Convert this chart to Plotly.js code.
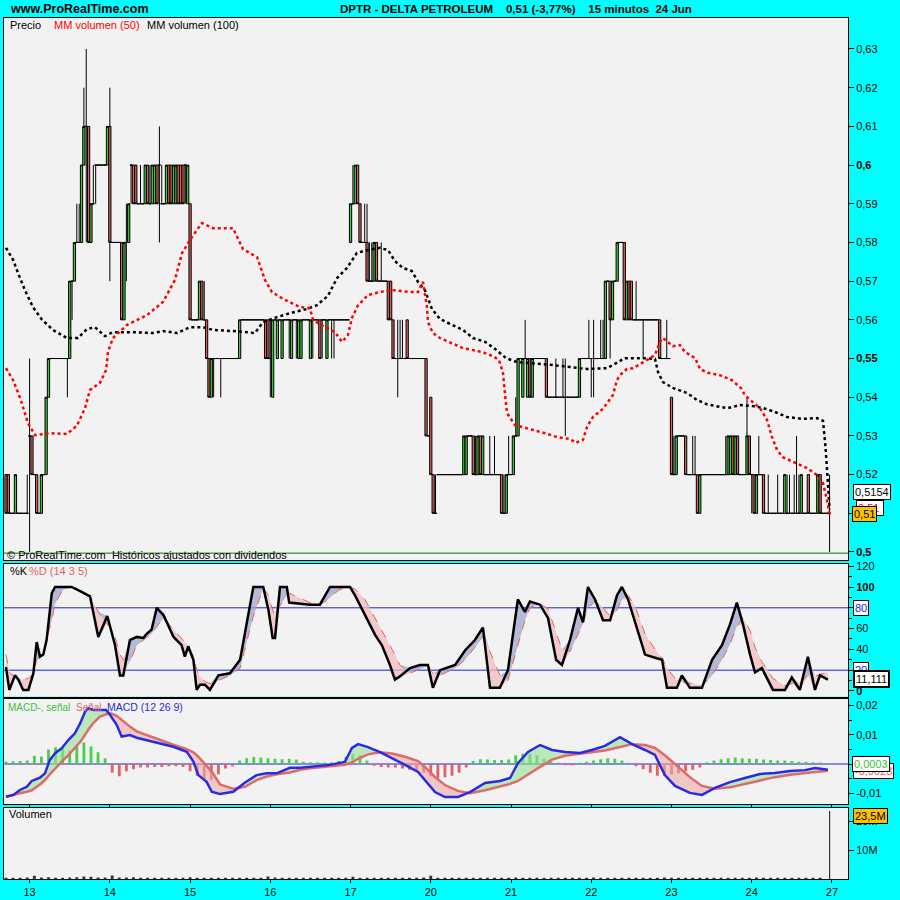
<!DOCTYPE html>
<html><head><meta charset="utf-8">
<script src="https://cdn.plot.ly/plotly-3.0.1.min.js"></script>
<style>html,body{margin:0;padding:0;background:#00FFFF;}#chart{width:900px;height:900px;}</style>
</head><body><div id="chart"></div>
<script>
// ---------- x axis: 15-minute bar index, day labels ----------
const dayTickIdx = [10,44,78,112,146,180,214,248,282,316,350];
const dayLabels = ['13','14','15','16','17','20','21','22','23','24','27'];

// ---------- price bars (in cents) ----------
const openC = [
 52,52,51,51,51,51,51,51,51,51,
 53,53,52,52,51,51,52,52,54,55, 55,55,55,55,55,55,55,55,57,57, 58,58,58,60,61,61,58,59,60,60, 60,60,60,60,
 61,58,58,58,58,58,56,58,58,60, 60,60,59,59,59,59,60,59,59,59, 60,60,59,59,59,60,60,59,59,60, 60,60,60,59,
 59,56,56,56,56,57,56,56,55,54, 55,55,55,55,55,55,55,55,55,55, 55,55,56,56,56,56,56,56,56,56, 56,56,56,56,
 55,54,56,55,56,55,56,56,56,55, 56,56,55,55,56,56,56,55,56,56, 56,56,56,56,55,56,56,56,56,56, 56,56,56,56,
 58,59,59,60,59,58,58,58,57,57, 57,58,57,57,57,57,57,57,56,55, 55,55,55,55,56,55,55,55,55,55, 55,55,55,53,
 54,52,51,52,52,52,52,52,52,52, 52,52,52,52,52,52,53,53,53,52, 52,53,52,52,52,52,52,52,52,52, 52,51,51,52,
 52,52,53,53,55,54,55,54,55,54, 55,55,55,55,55,55,54,54,54,54, 54,54,54,54,54,54,54,54,54,54, 55,55,55,55,
 55,55,55,55,55,55,55,57,57,56, 57,57,58,58,58,56,57,57,56,56, 56,56,56,56,56,56,56,56,56,56, 55,55,55,55,
 54,52,52,53,53,53,53,52,52,52, 52,52,51,52,52,52,52,52,52,52, 52,52,52,52,52,52,53,52,53,52, 52,52,52,53,
 52,52,51,52,52,52,51,51,51,51, 51,51,51,51,51,51,51,51,51,51, 51,51,51,51,52,51,51,51,51,52, 51,51,51,51
];
const closeC = [
 51,51,51,51,52,51,51,51,51,51,
 53,52,52,51,51,52,52,54,55,55, 55,55,55,55,55,55,55,57,57,58, 58,58,60,61,61,58,59,59,60,60, 60,60,60,61,
 58,58,58,58,58,56,58,58,59,60, 59,59,59,59,59,60,59,59,60,60, 59,60,59,59,60,59,59,60,60,59, 59,59,60,60,
 56,56,56,56,57,56,56,55,54,55, 55,55,55,55,55,55,55,55,55,55, 55,56,56,56,56,56,56,56,56,56, 56,56,55,55,
 55,56,56,56,56,56,56,56,56,56, 56,56,56,56,56,56,56,56,56,56, 56,55,56,56,56,56,56,56,56,56, 56,56,56,56,
 59,59,60,59,58,58,58,57,57,57, 58,57,57,57,57,57,56,56,55,55, 55,55,55,55,55,55,55,55,55,55, 55,55,53,53,
 52,51,51,52,52,52,52,52,52,52, 52,52,52,52,53,53,53,53,52,52, 53,52,53,52,52,52,52,52,52,52, 51,51,52,52,
 52,53,53,55,55,55,55,55,54,55, 55,55,55,55,55,54,54,54,54,54, 54,54,54,54,54,54,54,54,54,55, 55,55,55,55,
 55,55,55,55,55,55,57,57,56,57, 57,58,58,58,56,57,56,56,56,56, 56,56,56,56,56,56,56,56,56,55, 55,55,55,55,
 52,52,53,53,53,53,52,52,52,52, 52,51,52,52,52,52,52,52,52,52, 52,52,52,52,53,53,52,53,52,52, 52,52,53,52,
 52,51,52,52,52,51,51,51,51,51, 51,51,51,51,52,51,51,51,51,51, 51,52,51,51,51,51,51,51,52,51, 51,51,51,51
];
// wicks beyond the body (cents)
const hiIdx = [9,10,30,31,33,34,37,44,51,57,61,65,66,84,112,147,152,153,154,155,159,166,167,168,182,199,205,207,211,213,216,220,233,236,237,247,249,252,253,267,280,283,291,292,305,314,319,323,327,331,332,334,335,336,349];
const hiVal = [52,55,59,59,62,63,60,62,59,60,60,61,60,57,56,60,59,59,58,58,58,56,56,56,52,53,53,53,52,53,54,56,55,55,55,56,56,56,56,57,56,53,53,53,53,54,53,52,52,52,52,52,53,52,52];
const loIdx = [10,26,28,34,38,44,51,53,65,76,88,91,112,120,123,130,134,138,139,166,237,248,249,256,270,316,349];
const loVal = [50,54,56,58,59,57,57,59,58,59,54,54,54,55,55,55,55,55,55,54,53,54,54,55,55,51,50];

// ---------- moving averages on price ----------
const ma50X = [0,3,6,9.3,12.3,18.6,25.8,30,33.5,35.6,39.8,42.4,43.2,45.3,51.3,59.7,66.5,71.6,74.6,78.8,83,87.7,96.2,100.4,106.4,109.7,112.7,117.4,124.6,128.8,130.1,134.3,139.4,142.4,144.9,146.6,149.2,153.4,158.5,163.6,171.2,174.6,176.7,178.4,178.8,180.9,183.9,189,193.6,201.7,206.4,208.9,210.6,211.4,212.3,215.7,220.8,228.4,233.5,239,241.5,244.5,246.2,248.7,253,257.2,258.9,260.2,263.1,265.7,269.9,275,277.1,278.4,282.6,285.6,287.7,292,294.1,297.5,302.5,307.6,311.4,313.1,315.3,319.5,322.5,324.6,326.7,329.2,333.5,339.4,343.6,346.2,347.9,349];
const ma50Y = [0.5475,0.5444,0.5398,0.5333,0.5302,0.5307,0.5305,0.5326,0.5372,0.5419,0.5437,0.547,0.5517,0.5553,0.5587,0.5612,0.5646,0.5703,0.5773,0.5814,0.585,0.5837,0.5837,0.5783,0.5762,0.5703,0.5672,0.5654,0.5633,0.563,0.560,0.5584,0.5568,0.5543,0.5561,0.5605,0.5638,0.5664,0.5672,0.5677,0.5672,0.5672,0.5698,0.5633,0.5594,0.5566,0.5553,0.554,0.5527,0.5517,0.5506,0.5496,0.5463,0.5411,0.5359,0.5328,0.532,0.5307,0.5297,0.5292,0.5282,0.529,0.5323,0.5349,0.537,0.5406,0.5444,0.5457,0.5473,0.5475,0.549,0.5509,0.5543,0.5553,0.5532,0.5535,0.5517,0.5501,0.5473,0.5463,0.5457,0.5444,0.5424,0.5406,0.5393,0.5372,0.5341,0.5297,0.5264,0.5245,0.5233,0.5217,0.5199,0.5178,0.5134,0.5096];
const ma100X = [0,3,5.1,8,11.4,15.3,19.9,25.8,30.5,34.3,37.7,41.9,45.3,53.8,62.3,66.5,72.5,78,83.5,87.7,96.2,105.5,108.9,114.8,120.3,127.5,131.8,136.4,140.3,144.5,148.7,153,158.5,161.9,164.8,168.2,172,174.6,177.5,180.5,183.9,189,193.6,197.9,203,207.2,211.9,216.5,223.3,231.8,239,246.2,254.7,258.9,262.3,269.9,275,276.3,278.4,282.6,288.6,292.8,297,302.5,305.9,311,316.5,320.8,325.8,330.9,337.7,343.6,346.2,347.3,348.3,349];
const ma100Y = [0.5786,0.5755,0.5721,0.5677,0.5633,0.560,0.5574,0.5553,0.5553,0.5576,0.5581,0.5558,0.5568,0.5568,0.5566,0.5571,0.5566,0.5581,0.5581,0.5574,0.5571,0.5566,0.5594,0.5607,0.5617,0.5628,0.5638,0.5662,0.5708,0.5734,0.5773,0.578,0.5786,0.578,0.5752,0.5734,0.5726,0.5698,0.5677,0.5628,0.5602,0.5587,0.5574,0.5553,0.5543,0.5525,0.5501,0.5491,0.5488,0.5483,0.5478,0.5473,0.5475,0.549,0.5501,0.5501,0.5499,0.5465,0.5439,0.5424,0.5411,0.5393,0.5382,0.5375,0.5372,0.538,0.5377,0.5372,0.5362,0.5349,0.5344,0.5346,0.5339,0.527,0.518,0.511];

// ---------- stochastic %K / %D ----------
const stochX = [0,1.4,3.8,5.2,7.3,9.5,11.6,13,14.4,15.8,17.2,19.4,20.8,24,27.8,31.4,35.6,39.1,42.9,44.1,46.2,48.3,49.7,52.5,55.4,58.2,59.6,61.7,63.9,66.7,71,74.4,75.8,77.2,79.4,80.8,82.2,84.3,86.4,90,94.9,99.2,104.8,109,111.2,113,114,116.1,119,120,124.6,128.8,133,135.2,137.3,141,145.8,147.9,152.1,156.4,159.3,162.7,164.8,166.9,171.2,175.4,178.8,180.9,183.9,190.3,194.5,198.7,202.1,205.1,209.3,212.7,216.9,219.9,222,226.3,229.7,233.1,235.6,239,242.4,244.5,246.6,249.6,253,256,258.9,261,263.6,266.5,270.8,275,278,280.1,284.3,286.4,289.8,294.9,299.2,303.4,306.8,309.7,312.3,315.3,317.4,320.3,322.9,325,330.1,333,336.4,339.8,342.8,344.9,348.3];
const stochK = [23,1,15,11,1,1,17,47,33,35,49,94,100,100,100,96,91,52,72,62,44,15,15,49,52,51,55,59,80,73,52,44,33,43,30,1,6,6,1,15,17,30,100,100,78,51,51,100,100,85,84,83,83,92,100,100,100,92,73,54,44,25,11,14,22,25,25,3,20,25,39,49,61,3,3,20,88,76,86,83,70,30,25,49,80,66,100,88,68,68,92,100,88,66,35,32,30,3,3,15,3,3,30,44,64,85,64,35,18,22,11,1,1,13,1,33,1,15,11];
const stochD = [35,18,13,12,11,12,17,30,33,35,50,68,84,97,100,97,91,76,64,62,52,35,30,28,44,49,51,55,62,70,59,51,47,41,34,20,14,9,7,10,15,22,72,99,92,78,72,82,92,94,89,85,83,86,90,97,100,98,88,70,58,45,35,25,17,21,24,17,15,22,30,42,52,38,15,10,45,68,80,84,79,56,40,38,55,65,80,86,80,72,78,88,92,82,55,40,32,22,10,9,8,5,15,30,45,62,70,58,42,28,20,12,5,7,7,15,14,16,18];

// ---------- MACD ----------
const macdX = [0,3.1,5.9,8.8,10.9,14.4,16.5,18.6,20.8,23.6,26.4,29.2,31.4,33.5,34.9,37,39.8,42.4,44.1,46.9,49,52.5,55.4,61,65.3,70.9,76.6,79.4,81.5,85,87.2,90.7,96.3,101.3,106.2,110.5,114.7,120.3,124.6,128.8,137.3,143.6,146.6,149.2,153.4,158.5,163.6,169.1,174.6,177.5,181.8,186,191.5,196.6,203,209.3,213.6,216.9,221.2,226.3,231.4,236.9,243.2,248.3,253.8,260.2,265.3,270.8,275,279.2,283.5,289.8,294.9,300.4,306.8,313.1,319.5,325.8,332.2,338.6,342.8,348.3];
const macdLine = [-0.0112,-0.0106,-0.0089,-0.0078,-0.0058,-0.0047,-0.0032,0.0014,0.0037,0.0054,0.0082,0.0105,0.0139,0.0179,0.0191,0.0185,0.0185,0.0185,0.0168,0.0134,0.0094,0.0099,0.0090,0.0079,0.0071,0.0059,0.0042,0.0008,-0.0038,-0.0061,-0.0095,-0.0103,-0.0095,-0.0063,-0.0038,-0.0032,-0.0032,-0.0013,-0.0013,-0.0010,-0.0003,0.0007,0.0055,0.0068,0.0058,0.0041,0.0021,-0.0003,-0.0027,-0.0055,-0.0096,-0.0113,-0.0113,-0.0096,-0.0065,-0.0058,-0.0048,0.0003,0.0041,0.0065,0.0048,0.0041,0.0038,0.0048,0.0062,0.0092,0.0068,0.0048,0.0031,-0.0038,-0.0075,-0.0099,-0.0106,-0.0082,-0.0062,-0.0048,-0.0034,-0.0031,-0.0024,-0.0021,-0.0014,-0.0020];
const macdSignal = [-0.0112,-0.0107,-0.0100,-0.0095,-0.0090,-0.0070,-0.0055,-0.0035,-0.0015,0.0008,0.0030,0.0055,0.0075,0.0100,0.0118,0.0140,0.0162,0.0170,0.0174,0.0165,0.0150,0.0128,0.0112,0.0095,0.0082,0.0066,0.0051,0.0040,0.0025,-0.0005,-0.0026,-0.0070,-0.0085,-0.0078,-0.0055,-0.0043,-0.0035,-0.0029,-0.0020,-0.0015,-0.0008,-0.0003,0.0005,0.0018,0.0033,0.0040,0.0036,0.0025,0.0010,-0.0010,-0.0045,-0.0072,-0.0092,-0.0100,-0.0090,-0.0078,-0.0068,-0.0058,-0.0035,-0.0010,0.0015,0.0028,0.0035,0.0040,0.0046,0.0058,0.0068,0.0065,0.0055,0.0030,0.0000,-0.0045,-0.0075,-0.0085,-0.0080,-0.0068,-0.0055,-0.0045,-0.0037,-0.0030,-0.0027,-0.0023];
// histogram, one value every 3 bars from bar 0
const macdHist = [
 0.0008,0.0009,0.0010,0.0012,0.0028,0.0026,0.0050,0.0057,0.0052,0.0046,
 0.0062,0.0074,0.0060,0.0040,0.0020,-0.0030,-0.0042,-0.0025,-0.0018,-0.0012,
 -0.0012,-0.0010,-0.0010,-0.0008,-0.0008,-0.0010,-0.0025,-0.0040,-0.0050,-0.0054,
 -0.0035,-0.0015,-0.0008,0.0012,0.0020,0.0024,0.0022,0.0020,0.0018,0.0016,
 0.0018,0.0015,0.0008,0.0006,0.0006,0.0005,0.0006,0.0010,0.0025,0.0035,
 0.0030,0.0012,-0.0006,-0.0010,-0.0012,-0.0012,-0.0015,-0.0020,-0.0025,-0.0030,
 -0.0042,-0.0048,-0.0045,-0.0040,-0.0030,-0.0012,0.0010,0.0016,0.0015,0.0014,
 0.0014,0.0015,0.0030,0.0035,0.0035,0.0030,0.0018,0.0008,0.0004,-0.0004,
 -0.0004,0.0004,0.0008,0.0012,0.0016,0.0020,0.0018,0.0012,0.0004,-0.0008,
 -0.0018,-0.0030,-0.0040,-0.0040,-0.0035,-0.0032,-0.0025,-0.0020,-0.0012,0.0006,
 0.0012,0.0016,0.0020,0.0022,0.0020,0.0018,0.0018,0.0015,0.0014,0.0012,
 0.0012,0.0010,0.0008,0.0008,0.0006,0.0005,0.0003
];

// ---------- volume (millions), one value every 3 bars from bar 0, then the closing bar ----------
const volumeM = [
 0.4,0.4,0.4,0.5,1.1,0.5,0.6,0.4,0.4,0.5, 0.6,0.9,0.8,0.5,0.5,1.2,0.5,0.5,0.6,0.4,
 0.4,0.4,0.4,0.4,0.4,0.4,0.6,0.4,0.4,0.4, 0.4,0.4,0.4,0.4,0.4,0.4,0.4,0.9,0.5,0.4,
 0.4,0.4,0.4,0.4,0.4,0.4,0.4,0.4,0.4,0.8, 0.4,0.4,0.4,0.4,0.4,0.4,0.4,0.4,0.4,0.5,
 1.1,0.4,0.4,0.4,0.4,0.4,0.4,0.4,0.4,0.4, 0.4,0.4,0.5,0.4,0.4,0.4,0.4,0.4,0.4,0.4,
 0.4,0.4,0.4,0.5,0.4,0.4,0.4,0.4,0.4,0.4, 0.4,0.4,0.4,0.5,0.4,0.4,0.4,0.4,0.4,0.4,
 0.4,0.4,0.4,0.4,0.4,0.4,0.5,0.4,0.4,0.4, 0.4,0.4,0.4,0.4,0.4,0.4,
 23.5
];
const closingBarIdx = 349;

// ---------- build traces ----------
const nBars = openC.length;
const barIdx = [], op = [], hi = [], lo = [], cl = [];
for (let i = 0; i < nBars; i++) {
  barIdx.push(i);
  const o = openC[i], c = closeC[i];
  let h = Math.max(o, c), l = Math.min(o, c);
  const hk = hiIdx.indexOf(i); if (hk >= 0) h = Math.max(h, hiVal[hk]);
  const lk = loIdx.indexOf(i); if (lk >= 0) l = Math.min(l, loVal[lk]);
  op.push(o / 100); hi.push(h / 100); lo.push(l / 100); cl.push(c / 100);
}
const histX = macdHist.map((_, k) => 3 * k);
const volX = volumeM.map((_, k) => k === volumeM.length - 1 ? closingBarIdx : 3 * k);

const kdHi = stochK.map((k, i) => Math.max(k, stochD[i]));
const kdLo = stochK.map((k, i) => Math.min(k, stochD[i]));
const msHi = macdLine.map((m, i) => Math.max(m, macdSignal[i]));
const msLo = macdLine.map((m, i) => Math.min(m, macdSignal[i]));

const FONT = 'Liberation Sans, Arial, sans-serif';
const inv = {color: 'rgba(0,0,0,0)', width: 0};

const traces = [
  {type: 'candlestick', x: barIdx, open: op, high: hi, low: lo, close: cl, xaxis: 'x', yaxis: 'y',
   increasing: {line: {color: '#000000', width: 1}, fillcolor: '#3ec93e'},
   decreasing: {line: {color: '#000000', width: 1}, fillcolor: '#d9625e'},
   whiskerwidth: 0, hoverinfo: 'skip'},
  {type: 'scatter', mode: 'lines', x: ma100X, y: ma100Y, yaxis: 'y', line: {color: '#000000', width: 2.5, dash: 'dot'}, hoverinfo: 'skip'},
  {type: 'scatter', mode: 'lines', x: ma50X, y: ma50Y, yaxis: 'y', line: {color: '#ff0000', width: 2.5, dash: 'dot'}, hoverinfo: 'skip'},

  // stochastic fills
  {type: 'scatter', mode: 'lines', x: stochX, y: stochD, yaxis: 'y2', line: inv, hoverinfo: 'skip'},
  {type: 'scatter', mode: 'lines', x: stochX, y: kdHi, yaxis: 'y2', line: inv, fill: 'tonexty', fillcolor: 'rgba(160,165,205,0.75)', hoverinfo: 'skip'},
  {type: 'scatter', mode: 'lines', x: stochX, y: stochD, yaxis: 'y2', line: inv, hoverinfo: 'skip'},
  {type: 'scatter', mode: 'lines', x: stochX, y: kdLo, yaxis: 'y2', line: inv, fill: 'tonexty', fillcolor: 'rgba(240,190,190,0.75)', hoverinfo: 'skip'},
  {type: 'scatter', mode: 'lines', x: stochX, y: stochD, yaxis: 'y2', line: {color: '#e06464', width: 1, dash: 'dash'}, hoverinfo: 'skip'},
  {type: 'scatter', mode: 'lines', x: stochX, y: stochK, yaxis: 'y2', line: {color: '#000000', width: 2.5}, hoverinfo: 'skip'},

  // MACD
  {type: 'bar', x: histX, y: macdHist, yaxis: 'y3', width: 1.2,
   marker: {color: macdHist.map(v => v >= 0 ? '#4ccc4c' : '#e06262'), line: {width: 0}}, hoverinfo: 'skip'},
  {type: 'scatter', mode: 'lines', x: macdX, y: macdSignal, yaxis: 'y3', line: inv, hoverinfo: 'skip'},
  {type: 'scatter', mode: 'lines', x: macdX, y: msHi, yaxis: 'y3', line: inv, fill: 'tonexty', fillcolor: 'rgba(150,225,150,0.6)', hoverinfo: 'skip'},
  {type: 'scatter', mode: 'lines', x: macdX, y: macdSignal, yaxis: 'y3', line: inv, hoverinfo: 'skip'},
  {type: 'scatter', mode: 'lines', x: macdX, y: msLo, yaxis: 'y3', line: inv, fill: 'tonexty', fillcolor: 'rgba(235,170,170,0.6)', hoverinfo: 'skip'},
  {type: 'scatter', mode: 'lines', x: macdX, y: macdSignal, yaxis: 'y3', line: {color: '#e06a6a', width: 2.5}, hoverinfo: 'skip'},
  {type: 'scatter', mode: 'lines', x: macdX, y: macdLine, yaxis: 'y3', line: {color: '#2a2ae0', width: 2.5}, hoverinfo: 'skip'},

  // volume
  {type: 'bar', x: volX, y: volumeM, yaxis: 'y4', width: volumeM.map((_, k) => k === volumeM.length - 1 ? 0.5 : 1.2),
   marker: {color: '#333333', line: {width: 0}}, hoverinfo: 'skip'}
];

function px(X) { return (X - 4) / 844; }
function py(Y) { return (879 - Y) / 861; }

const yCommon = {side: 'right', showline: true, mirror: true, linecolor: '#000', linewidth: 1,
  ticks: 'outside', ticklen: 5, tickcolor: '#000', showgrid: false, zeroline: false,
  tickfont: {family: FONT, size: 11, color: '#000'}, fixedrange: true};

const priceTicks = [0.50,0.51,0.52,0.53,0.54,0.55,0.56,0.57,0.58,0.59,0.60,0.61,0.62,0.63];
const priceTickText = ['<b>0,5</b>','0,51','0,52','0,53','0,54','<b>0,55</b>','0,56','0,57','0,58','0,59','<b>0,6</b>','0,61','0,62','0,63'];

function txt(text, X, Y, color, size, bold) {
  return {text: bold ? '<b>' + text + '</b>' : text, xref: 'paper', yref: 'paper', x: px(X), y: py(Y),
    xanchor: 'left', yanchor: 'middle', showarrow: false, font: {family: FONT, size: size, color: color}};
}
function box(text, X, yref, yv, color, bg, bw) {
  return {text: text, xref: 'paper', yref: yref, x: px(X), y: yv, xanchor: 'left', yanchor: 'middle',
    showarrow: false, font: {family: FONT, size: 11, color: color}, bgcolor: bg, bordercolor: '#000',
    borderwidth: bw || 1, borderpad: 1};
}

const layout = {
  width: 900, height: 900,
  margin: {l: 4, r: 52, t: 18, b: 21},
  paper_bgcolor: '#00FFFF', plot_bgcolor: '#F2F2F2',
  showlegend: false, hovermode: false, separators: ',.',
  boxgap: 0, boxgroupgap: 0.05,
  xaxis: {domain: [0, 1], range: [-0.85, 356.8], anchor: 'y4', tickvals: dayTickIdx, ticktext: dayLabels,
    ticks: 'outside', ticklen: 3, tickcolor: '#000', showline: true, mirror: 'all', linecolor: '#000', linewidth: 1,
    showgrid: false, zeroline: false, rangeslider: {visible: false}, fixedrange: true,
    tickfont: {family: FONT, size: 11, color: '#000'}},
  yaxis: Object.assign({}, yCommon, {domain: [py(560), 1], range: [0.49793, 0.63801], tickvals: priceTicks, ticktext: priceTickText}),
  yaxis2: Object.assign({}, yCommon, {domain: [py(696.7), py(563.5)], range: [-5.5, 122.6],
    tickvals: [0,20,40,60,80,100,120], ticktext: ['<b>0</b>','20','40','60','80','<b>100</b>','120'],
    minor: {dtick: 10, ticks: 'outside', ticklen: 3, tickcolor: '#000'}}),
  yaxis3: Object.assign({}, yCommon, {domain: [py(804.3), py(699)], range: [-0.0138, 0.02226],
    tickvals: [-0.01, 0.01, 0.02], ticktext: ['-0,01','0,01','0,02'],
    minor: {dtick: 0.005, ticks: 'outside', ticklen: 3, tickcolor: '#000'}}),
  yaxis4: Object.assign({}, yCommon, {domain: [0, py(807.7)], range: [0, 24.6],
    tickvals: [10, 20], ticktext: ['10M', '20M']}),
  shapes: [
    {type: 'line', xref: 'paper', x0: 0, x1: 1, yref: 'y', y0: 0.4997, y1: 0.4997, line: {color: '#008000', width: 1}},
    {type: 'line', xref: 'paper', x0: 0, x1: 1, yref: 'y2', y0: 80, y1: 80, line: {color: '#2020d8', width: 1}, layer: 'below'},
    {type: 'line', xref: 'paper', x0: 0, x1: 1, yref: 'y2', y0: 20, y1: 20, line: {color: '#2020d8', width: 1}, layer: 'below'},
    {type: 'line', xref: 'paper', x0: 0, x1: 1, yref: 'y3', y0: 0, y1: 0, line: {color: '#2020d8', width: 1}, layer: 'below'}
  ],
  annotations: [
    txt('www.ProRealTime.com', 8, 9.5, '#000', 12.5, true),
    txt('DPTR - DELTA PETROLEUM\u00a0\u00a0\u00a0\u00a00,51 (-3,77%)\u00a0\u00a0\u00a0\u00a015 minutos\u00a0\u00a024 Jun', 338, 9.5, '#000', 11.5, true),
    txt('Precio', 8, 24.5, '#000', 11),
    txt('MM volumen (50)', 52, 24.5, '#ff0000', 11),
    txt('MM volumen (100)', 145, 24.5, '#000', 11),
    txt('\u00a9 ProRealTime.com\u00a0\u00a0Históricos ajustados con dividendos', 5, 554.5, '#000', 11),
    txt('%K', 8, 570.5, '#000', 11),
    txt('%D (14 3 5)', 27, 570.5, '#e06464', 11),
    txt('MACD-, señal', 6, 707, '#40c040', 10),
    txt('Señal', 74, 707, '#e06464', 10),
    txt('MACD (12 26 9)', 105, 707, '#2a2ae0', 10.5),
    txt('Volumen', 7, 814, '#000', 11),
    box('0,5154', 853, 'y', 0.5154, '#000', '#ffffff'),
    box('0,51\u00a0', 856, 'y', 0.5114, '#ff0000', '#ffffff'),
    box('0,51', 852, 'y', 0.5098, '#000', '#FFC000'),
    box('80', 853, 'y2', 80, '#2020d8', '#ffffff'),
    box('20', 853, 'y2', 20, '#2020d8', '#ffffff'),
    box('11,111', 853, 'y2', 11.1, '#000', '#ffffff', 2),
    box('-0,0023', 853, 'y3', -0.0025, '#e06464', '#ffffff'),
    box('0,0003', 852, 'y3', 0.0000, '#40c040', '#ffffff'),
    box('23,5M', 853, 'y4', 21.7, '#000', '#FFC000')
  ]
};

Plotly.newPlot('chart', traces, layout, {staticPlot: true, displayModeBar: false});
</script></body></html>
